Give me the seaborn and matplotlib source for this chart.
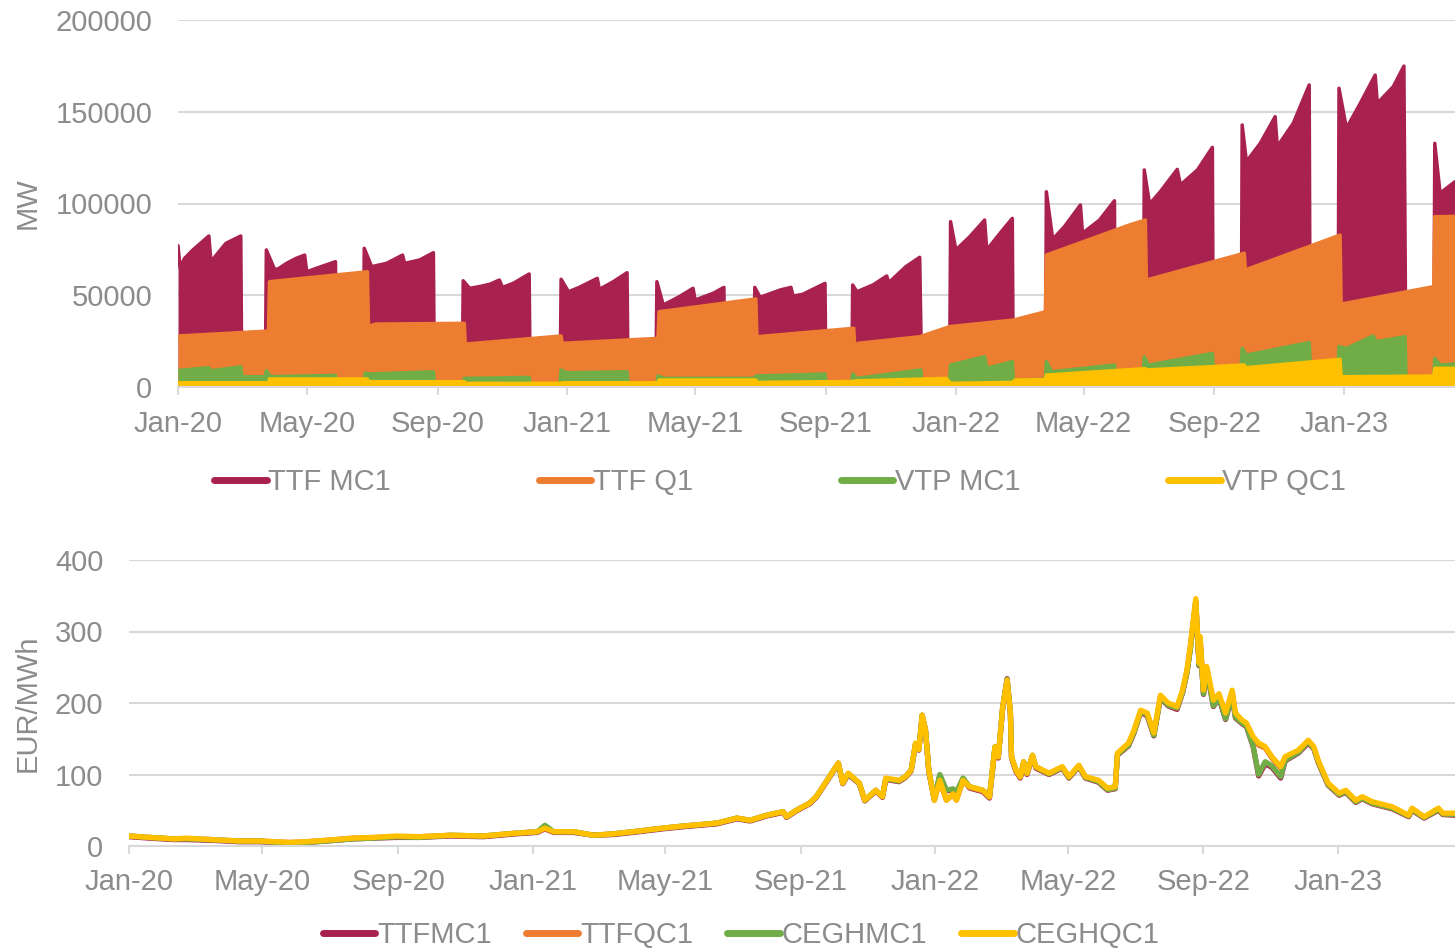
import pandas as pd
import matplotlib.pyplot as plt
import matplotlib.dates as mdates
from matplotlib.lines import Line2D
import seaborn as sns

# ---------------- top panel: MW, (date, value) breakpoints
ttf_mc1_mw = [
    ("2020-01-01", 77000), ("2020-01-03", 65000), ("2020-01-07", 70000), ("2020-01-15", 74700),
    ("2020-01-30", 82300), ("2020-02-01", 68300), ("2020-02-15", 78300), ("2020-02-29", 82300),
    ("2020-03-01", 0), ("2020-03-23", 0),
    ("2020-03-24", 74700), ("2020-04-01", 63800), ("2020-04-05", 64700), ("2020-04-12", 67400),
    ("2020-04-21", 70100), ("2020-04-29", 71900), ("2020-05-01", 62800), ("2020-05-10", 64700),
    ("2020-05-19", 66500), ("2020-05-28", 68300), ("2020-05-29", 0), ("2020-06-23", 0),
    ("2020-06-24", 75600), ("2020-07-01", 65600), ("2020-07-15", 67400), ("2020-07-27", 71000),
    ("2020-07-30", 71900), ("2020-08-01", 67400), ("2020-08-15", 69200), ("2020-08-28", 73200),
    ("2020-08-29", 0), ("2020-09-24", 0),
    ("2020-09-25", 57900), ("2020-10-01", 53800), ("2020-10-10", 54700), ("2020-10-20", 56000),
    ("2020-10-29", 58300), ("2020-11-01", 54300), ("2020-11-11", 56500), ("2020-11-26", 61600),
    ("2020-11-27", 0), ("2020-12-25", 0),
    ("2020-12-26", 58700), ("2021-01-02", 51900), ("2021-01-12", 54300), ("2021-01-29", 59200),
    ("2021-01-31", 53200), ("2021-02-13", 57400), ("2021-02-26", 62300), ("2021-02-27", 0),
    ("2021-03-25", 0),
    ("2021-03-26", 57400), ("2021-04-01", 44700), ("2021-04-16", 49200), ("2021-04-29", 53800),
    ("2021-05-01", 47400), ("2021-05-18", 51100), ("2021-05-28", 54300), ("2021-05-29", 0),
    ("2021-06-25", 0),
    ("2021-06-26", 54300), ("2021-07-01", 48900), ("2021-07-20", 52900), ("2021-07-30", 54300),
    ("2021-08-01", 49600), ("2021-08-10", 50500), ("2021-08-31", 56500), ("2021-09-01", 0),
    ("2021-09-25", 0),
    ("2021-09-26", 55600), ("2021-09-30", 51900), ("2021-10-15", 55600), ("2021-10-28", 60500),
    ("2021-10-30", 56900), ("2021-11-15", 65600), ("2021-11-28", 70700), ("2021-11-30", 0),
    ("2021-12-26", 0),
    ("2021-12-27", 90100), ("2022-01-01", 74700), ("2022-01-14", 81900), ("2022-01-28", 91000),
    ("2022-01-30", 74700), ("2022-02-14", 85600), ("2022-02-23", 91900), ("2022-02-24", 0),
    ("2022-03-26", 0),
    ("2022-03-27", 106400), ("2022-04-02", 80500), ("2022-04-13", 87400), ("2022-04-28", 99200),
    ("2022-04-30", 83800), ("2022-05-16", 91000), ("2022-05-30", 101500), ("2022-05-31", 0),
    ("2022-06-26", 0),
    ("2022-06-27", 118300), ("2022-07-02", 99700), ("2022-07-12", 106400), ("2022-07-28", 118600),
    ("2022-07-31", 110100), ("2022-08-16", 118300), ("2022-08-30", 130600), ("2022-08-31", 0),
    ("2022-09-26", 0),
    ("2022-09-27", 142800), ("2022-10-01", 122800), ("2022-10-14", 132800), ("2022-10-28", 147300),
    ("2022-10-30", 131000), ("2022-11-14", 143700), ("2022-11-29", 164600), ("2022-11-30", 0),
    ("2022-12-26", 0),
    ("2022-12-27", 162800), ("2023-01-03", 141000), ("2023-01-16", 154600), ("2023-01-30", 170000),
    ("2023-02-01", 154600), ("2023-02-16", 163700), ("2023-02-26", 174900), ("2023-02-28", 0),
    ("2023-03-26", 0),
    ("2023-03-27", 132800), ("2023-04-01", 105600), ("2023-04-15", 111900),
]

ttf_q1_mw = [
    ("2020-01-01", 27800), ("2020-03-26", 30500), ("2020-03-27", 57400), ("2020-06-27", 62800),
    ("2020-06-28", 33200), ("2020-07-05", 34300), ("2020-09-26", 34700), ("2020-09-27", 23400),
    ("2020-12-26", 27800), ("2020-12-27", 23800), ("2021-03-27", 26500), ("2021-03-28", 41000),
    ("2021-06-27", 48000), ("2021-06-28", 27400), ("2021-09-27", 32000), ("2021-09-28", 20500),
    ("2021-10-01", 23800), ("2021-11-28", 27400), ("2021-12-26", 32900), ("2022-02-24", 36500),
    ("2022-03-26", 41000), ("2022-03-27", 71900), ("2022-06-13", 88300), ("2022-06-28", 91000),
    ("2022-06-29", 58300), ("2022-09-29", 72900), ("2022-09-30", 63800), ("2022-12-28", 82800),
    ("2022-12-29", 45200), ("2023-03-26", 54700), ("2023-03-27", 92800), ("2023-04-15", 93000),
]

vtp_mc1_mw = [
    ("2020-01-01", 9000), ("2020-01-30", 10500), ("2020-02-01", 8800), ("2020-02-29", 11000),
    ("2020-03-01", 5600), ("2020-03-23", 5600), ("2020-03-24", 8900), ("2020-03-28", 5600),
    ("2020-05-28", 6300), ("2020-05-29", 3800), ("2020-06-24", 3800), ("2020-06-25", 7600),
    ("2020-06-28", 7100), ("2020-08-28", 8300), ("2020-08-29", 2000), ("2020-09-25", 2000),
    ("2020-09-26", 4700), ("2020-11-26", 5200), ("2020-11-27", 1500), ("2020-12-25", 1500),
    ("2020-12-26", 9300), ("2020-12-31", 7800), ("2021-02-26", 8300), ("2021-02-27", 1500),
    ("2021-03-26", 1500), ("2021-03-27", 6000), ("2021-04-02", 4700), ("2021-06-26", 4700),
    ("2021-06-27", 6000), ("2021-08-31", 7100), ("2021-09-01", 2000), ("2021-09-25", 2000),
    ("2021-09-26", 7100), ("2021-09-30", 4700), ("2021-11-29", 9300), ("2021-11-30", 2000),
    ("2021-12-26", 2000), ("2021-12-27", 12000), ("2022-01-28", 16500), ("2022-01-30", 10200),
    ("2022-02-23", 13800), ("2022-02-24", 3800), ("2022-03-26", 4200), ("2022-03-27", 13800),
    ("2022-04-01", 8300), ("2022-05-30", 12000), ("2022-05-31", 8000), ("2022-06-26", 8000),
    ("2022-06-27", 16500), ("2022-07-01", 12000), ("2022-08-30", 18300), ("2022-08-31", 10000),
    ("2022-09-26", 10000), ("2022-09-27", 21100), ("2022-10-01", 17400), ("2022-11-29", 24200),
    ("2022-11-30", 12000), ("2022-12-26", 12000), ("2022-12-27", 22000), ("2023-01-03", 21000),
    ("2023-01-28", 27800), ("2023-01-31", 24700), ("2023-02-27", 27400), ("2023-02-28", 5000),
    ("2023-03-26", 5000), ("2023-03-27", 15600), ("2023-04-01", 12000), ("2023-04-15", 12500),
]

vtp_qc1_mw = [
    ("2020-01-01", 2300), ("2020-03-26", 2300), ("2020-03-27", 4400), ("2020-06-27", 4400),
    ("2020-06-28", 2900), ("2020-09-26", 2900), ("2020-09-27", 2000), ("2020-12-26", 2000),
    ("2020-12-27", 2300), ("2021-03-27", 2300), ("2021-03-28", 3800), ("2021-06-27", 3800),
    ("2021-06-28", 2500), ("2021-09-27", 3000), ("2021-09-28", 3300), ("2021-12-23", 4700),
    ("2021-12-27", 2000), ("2022-02-24", 2500), ("2022-02-25", 3800), ("2022-03-26", 4000),
    ("2022-03-27", 6500), ("2022-06-28", 10000), ("2022-06-29", 9300), ("2022-09-29", 12000),
    ("2022-09-30", 10500), ("2022-12-28", 15100), ("2022-12-29", 5600), ("2023-03-26", 6000),
    ("2023-03-27", 10200), ("2023-04-15", 10200),
]

# ---------------- bottom panel: EUR/MWh
price_dates = [
    "2020-01-01", "2020-01-20", "2020-02-10", "2020-02-22", "2020-03-15", "2020-04-10", "2020-04-28", "2020-05-12", "2020-05-26", "2020-06-10",
    "2020-06-28", "2020-07-22", "2020-08-10", "2020-08-30", "2020-09-20", "2020-10-18", "2020-11-17", "2020-12-17", "2021-01-05", "2021-01-12",
    "2021-01-20", "2021-02-07", "2021-02-25", "2021-03-15", "2021-04-02", "2021-04-29", "2021-05-18", "2021-06-17", "2021-07-05", "2021-07-17",
    "2021-08-01", "2021-08-16", "2021-08-19", "2021-08-28", "2021-09-09", "2021-09-15", "2021-09-27", "2021-10-05", "2021-10-09", "2021-10-14",
    "2021-10-24", "2021-10-29", "2021-11-08", "2021-11-14", "2021-11-17", "2021-11-29", "2021-12-05", "2021-12-10", "2021-12-14", "2021-12-17",
    "2021-12-20", "2021-12-23", "2021-12-26", "2021-12-31", "2022-01-05", "2022-01-11", "2022-01-17", "2022-01-20", "2022-01-26", "2022-02-01",
    "2022-02-13", "2022-02-19", "2022-02-24", "2022-02-27", "2022-03-03", "2022-03-07", "2022-03-10", "2022-03-11", "2022-03-15", "2022-03-19",
    "2022-03-22", "2022-03-25", "2022-03-30", "2022-04-02", "2022-04-14", "2022-04-26", "2022-05-02", "2022-05-11", "2022-05-17", "2022-05-29",
    "2022-06-06", "2022-06-13", "2022-06-15", "2022-06-25", "2022-06-30", "2022-07-06", "2022-07-12", "2022-07-18", "2022-07-24", "2022-07-31",
    "2022-08-08", "2022-08-13", "2022-08-17", "2022-08-20", "2022-08-25", "2022-08-28", "2022-08-29", "2022-09-01", "2022-09-04", "2022-09-10",
    "2022-09-15", "2022-09-21", "2022-09-27", "2022-09-30", "2022-10-06", "2022-10-10", "2022-10-16", "2022-10-21", "2022-10-27", "2022-11-02",
    "2022-11-10", "2022-11-14", "2022-11-26", "2022-12-05", "2022-12-10", "2022-12-14", "2022-12-19", "2022-12-23", "2023-01-02", "2023-01-08",
    "2023-01-17", "2023-01-23", "2023-02-01", "2023-02-19", "2023-03-06", "2023-03-09", "2023-03-20", "2023-04-02", "2023-04-06", "2023-04-17",
]

ttfmc1 = [
    13, 11, 9, 9, 8, 6, 6, 5, 4, 5,
    7, 10, 11, 12, 12, 14, 13, 17, 19, 24,
    19, 19, 15, 16, 19, 24, 27, 31, 38, 35,
    42, 47, 40, 49, 59, 68, 96, 115, 87, 100,
    87, 63, 77, 68, 93, 90, 96, 105, 142, 134,
    182, 162, 104, 65, 99, 77, 79, 74, 94, 81,
    76, 67, 137, 123, 193, 234, 184, 123, 104, 95,
    116, 100, 125, 109, 100, 109, 95, 111, 95, 89,
    78, 80, 127, 140, 158, 187, 182, 154, 207, 196,
    191, 214, 242, 275, 340, 252, 284, 212, 245, 195,
    207, 177, 209, 179, 171, 167, 139, 98, 115, 110,
    95, 119, 130, 144, 136, 117, 99, 85, 71, 75,
    61, 66, 59, 52, 41, 50, 39, 50, 44, 43,
]

ttfqc1 = [
    14, 12, 10, 10, 9, 7, 7, 6, 5, 6,
    8, 11, 12, 13, 13, 15, 14, 18, 20, 25,
    20, 20, 15, 17, 20, 25, 28, 32, 39, 36,
    43, 48, 41, 50, 60, 69, 97, 116, 88, 101,
    88, 64, 78, 69, 94, 91, 97, 106, 143, 135,
    183, 162, 105, 64, 91, 64, 72, 64, 91, 82,
    77, 68, 138, 124, 194, 232, 185, 124, 105, 96,
    117, 101, 126, 110, 101, 110, 96, 112, 96, 90,
    79, 81, 128, 142, 160, 188, 184, 156, 209, 198,
    193, 216, 244, 277, 343, 254, 290, 216, 248, 201,
    210, 183, 216, 183, 174, 170, 151, 141, 137, 123,
    109, 123, 132, 146, 137, 118, 100, 86, 72, 76,
    62, 67, 60, 53, 42, 51, 40, 51, 45, 44,
]

ceghmc1 = [
    14, 12, 10, 10, 9, 7, 7, 5, 4, 5,
    7, 10, 11, 13, 12, 15, 14, 18, 20, 29,
    20, 20, 15, 17, 20, 25, 28, 32, 39, 36,
    43, 48, 41, 50, 60, 69, 97, 116, 88, 101,
    88, 64, 78, 69, 94, 91, 97, 106, 143, 135,
    183, 162, 106, 66, 100, 78, 80, 75, 95, 83,
    78, 69, 139, 125, 195, 233, 186, 125, 106, 97,
    118, 102, 127, 111, 101, 110, 96, 112, 96, 90,
    79, 81, 128, 141, 159, 188, 184, 155, 208, 197,
    193, 215, 243, 274, 342, 253, 285, 213, 246, 196,
    208, 178, 210, 180, 172, 168, 140, 100, 118, 112,
    97, 120, 131, 146, 137, 118, 100, 86, 72, 76,
    62, 67, 60, 53, 42, 51, 40, 51, 45, 44,
]

ceghqc1 = [
    14, 12, 10, 11, 9, 7, 7, 6, 5, 6,
    8, 11, 12, 14, 13, 15, 14, 18, 20, 25,
    20, 20, 15, 17, 20, 25, 28, 32, 39, 36,
    43, 48, 41, 50, 60, 69, 97, 116, 88, 102,
    88, 64, 78, 69, 95, 92, 97, 106, 144, 135,
    183, 162, 106, 64, 92, 64, 73, 64, 92, 83,
    78, 69, 139, 125, 195, 232, 186, 125, 106, 97,
    118, 102, 127, 111, 102, 111, 97, 113, 97, 92,
    81, 83, 130, 144, 162, 190, 186, 158, 211, 200,
    195, 218, 246, 279, 346, 256, 293, 218, 251, 204,
    213, 186, 218, 186, 176, 172, 153, 144, 139, 125,
    111, 125, 134, 148, 139, 120, 102, 88, 74, 78,
    64, 69, 62, 55, 43, 53, 41, 53, 46, 46,
]

crimson = "#A9224F"
orange = "#ED7D31"
green = "#70AD47"
yellow = "#FFC000"
grey = "#8C8C8C"
gridc = "#D9D9D9"
fs = 21

sns.set_theme(style="white")
plt.rcParams["font.family"] = ["Liberation Sans", "DejaVu Sans"]

fig = plt.figure(figsize=(14.55, 9.5), dpi=100)
ax1 = fig.add_axes([178 / 1455, 1 - 387 / 950, 1 - 178 / 1455, 367 / 950])
ax2 = fig.add_axes([129 / 1455, 1 - 846 / 950, 1 - 129 / 1455, 286 / 950])

top_series = [("TTF MC1", ttf_mc1_mw, crimson), ("TTF Q1", ttf_q1_mw, orange),
              ("VTP MC1", vtp_mc1_mw, green), ("VTP QC1", vtp_qc1_mw, yellow)]

for name, pts, col in top_series:
    df = pd.DataFrame(pts, columns=["date", "mw"])
    df["date"] = pd.to_datetime(df["date"])
    ax1.fill_between(df["date"].values, df["mw"].values, 0, color=col, lw=0, zorder=2)
    sns.lineplot(data=df, x="date", y="mw", ax=ax1, color=col, lw=2.5, sort=False,
                 estimator=None, legend=False, zorder=2)

prices = pd.DataFrame({"date": pd.to_datetime(price_dates), "TTFMC1": ttfmc1, "TTFQC1": ttfqc1,
                       "CEGHMC1": ceghmc1, "CEGHQC1": ceghqc1})
bottom_series = [("TTFMC1", crimson), ("TTFQC1", orange), ("CEGHMC1", green), ("CEGHQC1", yellow)]
for name, col in bottom_series:
    sns.lineplot(data=prices, x="date", y=name, ax=ax2, color=col, lw=3.8, sort=False,
                 estimator=None, legend=False, zorder=2)

ax1.set_xlim(pd.Timestamp("2020-01-01"), pd.Timestamp("2023-04-15"))
ax2.set_xlim(pd.Timestamp("2020-01-01"), pd.Timestamp("2023-04-17"))
ax1.set_ylim(0, 200000)
ax1.set_yticks(range(0, 200001, 50000))
ax2.set_ylim(0, 400)
ax2.set_yticks(range(0, 401, 100))

for ax in (ax1, ax2):
    ax.grid(axis="y", color=gridc, lw=1.5)
    ax.grid(axis="x", visible=False)
    ax.set_axisbelow(True)
    for s in ("top", "right", "left"):
        ax.spines[s].set_visible(False)
    ax.spines["bottom"].set_color(gridc)
    ax.spines["bottom"].set_linewidth(1.5)
    ax.spines["bottom"].set_zorder(3)
    ax.xaxis.set_major_locator(mdates.MonthLocator(bymonth=[1, 5, 9]))
    ax.xaxis.set_major_formatter(mdates.DateFormatter("%b-%y"))
    ax.tick_params(axis="y", left=False, length=0, labelcolor=grey, labelsize=fs, pad=18.5)
    ax.set_xlabel("")

ax1.tick_params(axis="x", bottom=True, length=6, width=1.5, color=gridc,
                labelcolor=grey, labelsize=fs, pad=10.5)
ax2.tick_params(axis="x", bottom=True, length=6, width=1.5, color=gridc,
                labelcolor=grey, labelsize=fs, pad=10)

ax1.set_ylabel("MW", fontsize=fs, color=grey)
ax1.yaxis.set_label_coords(-0.1065, 0.5)
ax2.set_ylabel("EUR/MWh", fontsize=fs, color=grey)
ax2.yaxis.set_label_coords(-0.0656, 0.5)

def handles(items):
    return [Line2D([], [], color=c, lw=5, solid_capstyle="round") for _, c in items]

fig.legend(handles([(n, c) for n, _, c in top_series]), [n for n, _, _ in top_series],
           loc="center", bbox_to_anchor=(780 / 1455, 1 - 482 / 950), ncol=4, frameon=False,
           fontsize=fs, labelcolor=grey, handlelength=1.8, handletextpad=0.05, columnspacing=5.07)
fig.legend(handles(bottom_series), [n for n, _ in bottom_series],
           loc="center", bbox_to_anchor=(741 / 1455, 1 - 935 / 950), ncol=4, frameon=False,
           fontsize=fs, labelcolor=grey, handlelength=1.8, handletextpad=0.05, columnspacing=1.18)

fig.savefig("out.png", dpi=100)
